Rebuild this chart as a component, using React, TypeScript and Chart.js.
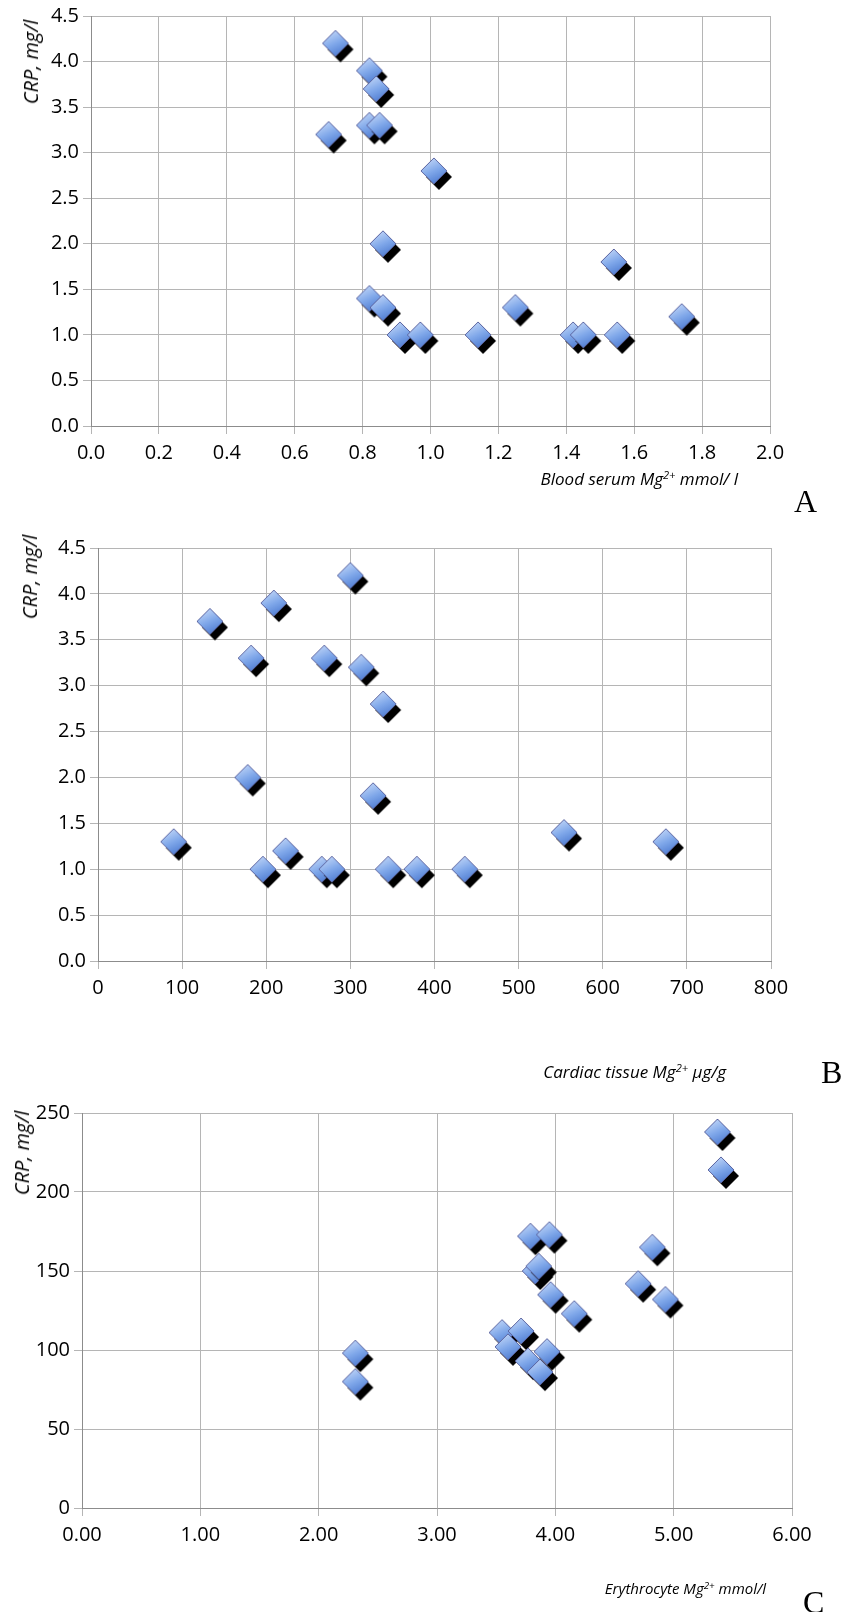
import React, { useEffect, useRef } from "react";
import { Chart, registerables } from "chart.js";

Chart.register(...registerables);

// ---------- DATA ----------
// Panel A: blood serum Mg2+ (mmol/l) vs CRP (mg/l)
const serumMg = [0.72, 0.82, 0.84, 0.70, 0.82, 0.85, 1.01, 0.86, 0.82, 0.86, 0.91, 0.97, 1.14, 1.25, 1.42, 1.45, 1.55, 1.54, 1.74];
const serumCrp = [4.2, 3.9, 3.7, 3.2, 3.3, 3.3, 2.8, 2.0, 1.4, 1.3, 1.0, 1.0, 1.0, 1.3, 1.0, 1.0, 1.0, 1.8, 1.2];

// Panel B: cardiac tissue Mg2+ (µg/g) vs CRP (mg/l)
const cardiacMg = [90, 133, 182, 209, 300, 269, 313, 339, 178, 327, 196, 223, 266, 278, 345, 379, 436, 554, 675];
const cardiacCrp = [1.3, 3.7, 3.3, 3.9, 4.2, 3.3, 3.2, 2.8, 2.0, 1.8, 1.0, 1.2, 1.0, 1.0, 1.0, 1.0, 1.0, 1.4, 1.3];

// Panel C: erythrocyte Mg2+ (mmol/l) vs CRP (mg/l)
const eryMg = [2.31, 2.31, 3.55, 3.60, 3.71, 3.77, 3.87, 3.93, 3.79, 3.95, 3.83, 3.86, 3.96, 4.16, 4.70, 4.82, 4.93, 5.37, 5.40];
const eryCrp = [98, 80, 111, 102, 112, 93, 86, 99, 172, 173, 150, 153, 135, 123, 142, 165, 132, 238, 214];

// Tick labels
const serumTicks = [0, 0.2, 0.4, 0.6, 0.8, 1.0, 1.2, 1.4, 1.6, 1.8, 2.0];
const crpTicks = [0, 0.5, 1.0, 1.5, 2.0, 2.5, 3.0, 3.5, 4.0, 4.5];
const cardiacTicks = [0, 100, 200, 300, 400, 500, 600, 700, 800];
const eryTicks = [0, 1, 2, 3, 4, 5, 6];
const eryCrpTicks = [0, 50, 100, 150, 200, 250];

const FONT = "'Open Sans', 'DejaVu Sans', sans-serif";

function diamondPath(g: CanvasRenderingContext2D, cx: number, cy: number, r: number) {
  g.beginPath();
  g.moveTo(cx, cy - r);
  g.lineTo(cx + r, cy);
  g.lineTo(cx, cy + r);
  g.lineTo(cx - r, cy);
  g.closePath();
}

function makeMarker(): HTMLCanvasElement {
  const S = 46;
  const c = document.createElement("canvas");
  c.width = S;
  c.height = S;
  const g = c.getContext("2d")!;
  const cx = S / 2;
  const cy = S / 2;
  const r = 13;
  // black 3D shadow
  g.fillStyle = "#000";
  diamondPath(g, cx + 5, cy + 6, r);
  g.fill();
  // blue gradient body
  const grad = g.createLinearGradient(cx - 6, cy - r, cx + 6, cy + r);
  grad.addColorStop(0, "#c4d8f8");
  grad.addColorStop(0.5, "#80a8ea");
  grad.addColorStop(1, "#4a78cf");
  diamondPath(g, cx, cy, r);
  g.fillStyle = grad;
  g.fill();
  g.lineWidth = 1;
  g.strokeStyle = "#5b64a0";
  g.stroke();
  return c;
}

type Box = { yW: number; xH: number; top: number; right: number };

function buildConfig(
  xs: number[],
  ys: number[],
  xTicks: number[],
  yTicks: number[],
  xDec: number,
  yDec: number,
  box: Box,
  marker: HTMLCanvasElement
): any {
  const tickFont = { family: FONT, size: 20 };
  return {
    type: "scatter",
    data: {
      datasets: [
        {
          data: xs.map((x, i) => ({ x, y: ys[i] })),
          pointStyle: marker,
          pointRadius: 13,
          pointHoverRadius: 13,
          clip: false,
        },
      ],
    },
    options: {
      animation: false,
      responsive: false,
      devicePixelRatio: 1,
      events: [],
      layout: { padding: { top: box.top, right: box.right, left: 0, bottom: 0 } },
      plugins: { legend: { display: false }, tooltip: { enabled: false }, title: { display: false } },
      scales: {
        x: {
          type: "linear",
          min: xTicks[0],
          max: xTicks[xTicks.length - 1],
          afterBuildTicks: (s: any) => {
            s.ticks = xTicks.map((v) => ({ value: v }));
          },
          afterFit: (s: any) => {
            s.height = box.xH;
          },
          ticks: {
            callback: (v: any) => Number(v).toFixed(xDec),
            font: tickFont,
            color: "#000",
            padding: 7,
            maxRotation: 0,
            autoSkip: false,
          },
          grid: { color: "#b5b5b5", lineWidth: 1, tickLength: 8, drawTicks: true },
          border: { color: "#8c8c8c", width: 1 },
        },
        y: {
          type: "linear",
          min: yTicks[0],
          max: yTicks[yTicks.length - 1],
          afterBuildTicks: (s: any) => {
            s.ticks = yTicks.map((v) => ({ value: v }));
          },
          afterFit: (s: any) => {
            s.width = box.yW;
          },
          ticks: {
            callback: (v: any) => Number(v).toFixed(yDec),
            font: tickFont,
            color: "#000",
            padding: 4,
            autoSkip: false,
          },
          grid: { color: "#b5b5b5", lineWidth: 1, tickLength: 8, drawTicks: true },
          border: { color: "#8c8c8c", width: 1 },
        },
      },
    },
  };
}

function ScatterPanel(props: {
  top: number;
  height: number;
  xs: number[];
  ys: number[];
  xTicks: number[];
  yTicks: number[];
  xDec: number;
  yDec: number;
  box: Box;
}) {
  const ref = useRef<HTMLCanvasElement | null>(null);
  useEffect(() => {
    if (!ref.current) return;
    const marker = makeMarker();
    const chart = new Chart(
      ref.current,
      buildConfig(props.xs, props.ys, props.xTicks, props.yTicks, props.xDec, props.yDec, props.box, marker)
    );
    return () => chart.destroy();
  }, []);
  return (
    <canvas
      ref={ref}
      width={845}
      height={props.height}
      style={{ position: "absolute", left: 0, top: props.top, width: 845, height: props.height, display: "block" }}
    />
  );
}

const titleBase: React.CSSProperties = {
  position: "absolute",
  fontFamily: FONT,
  fontStyle: "italic",
  fontSize: 17,
  lineHeight: 1,
  color: "#000",
  whiteSpace: "nowrap",
};

const supStyle: React.CSSProperties = { fontSize: "0.65em", verticalAlign: "0.55em", lineHeight: 0 };

const letterBase: React.CSSProperties = {
  position: "absolute",
  fontFamily: "'Liberation Serif', 'DejaVu Serif', serif",
  fontSize: 32,
  lineHeight: 1,
  color: "#000",
  whiteSpace: "nowrap",
};

function YTitle(props: { cx: number; cy: number }) {
  return (
    <div
      style={{
        ...titleBase,
        fontSize: 20,
        left: props.cx,
        top: props.cy,
        transform: "translate(-50%, -50%) rotate(-90deg)",
      }}
    >
      CRP, mg/l
    </div>
  );
}

export default function App() {
  return (
    <div
      style={{
        position: "absolute",
        left: 0,
        top: 0,
        width: 845,
        height: 1612,
        overflow: "hidden",
        background: "#fff",
      }}
    >
      <ScatterPanel
        top={0}
        height={520}
        xs={serumMg}
        ys={serumCrp}
        xTicks={serumTicks}
        yTicks={crpTicks}
        xDec={1}
        yDec={1}
        box={{ yW: 91, xH: 94, top: 16, right: 75 }}
      />
      <ScatterPanel
        top={520}
        height={560}
        xs={cardiacMg}
        ys={cardiacCrp}
        xTicks={cardiacTicks}
        yTicks={crpTicks}
        xDec={0}
        yDec={1}
        box={{ yW: 98, xH: 119, top: 28, right: 74 }}
      />
      <ScatterPanel
        top={1080}
        height={532}
        xs={eryMg}
        ys={eryCrp}
        xTicks={eryTicks}
        yTicks={eryCrpTicks}
        xDec={2}
        yDec={0}
        box={{ yW: 82, xH: 104, top: 33, right: 53 }}
      />

      <YTitle cx={31} cy={62} />
      <YTitle cx={30} cy={577} />
      <YTitle cx={22} cy={1153} />

      <div style={{ ...titleBase, right: 107, top: 470 }}>
        Blood serum Mg<sup style={supStyle}>2+</sup> mmol/ l
      </div>
      <div style={{ ...titleBase, right: 119, top: 1063 }}>
        Cardiac tissue Mg<sup style={supStyle}>2+</sup> μg/g
      </div>
      <div style={{ ...titleBase, fontSize: 15, right: 79, top: 1581 }}>
        Erythrocyte Mg<sup style={supStyle}>2+</sup> mmol/l
      </div>

      <div style={{ ...letterBase, left: 794, top: 485 }}>A</div>
      <div style={{ ...letterBase, left: 821, top: 1056 }}>B</div>
      <div style={{ ...letterBase, left: 803, top: 1586 }}>C</div>
    </div>
  );
}
